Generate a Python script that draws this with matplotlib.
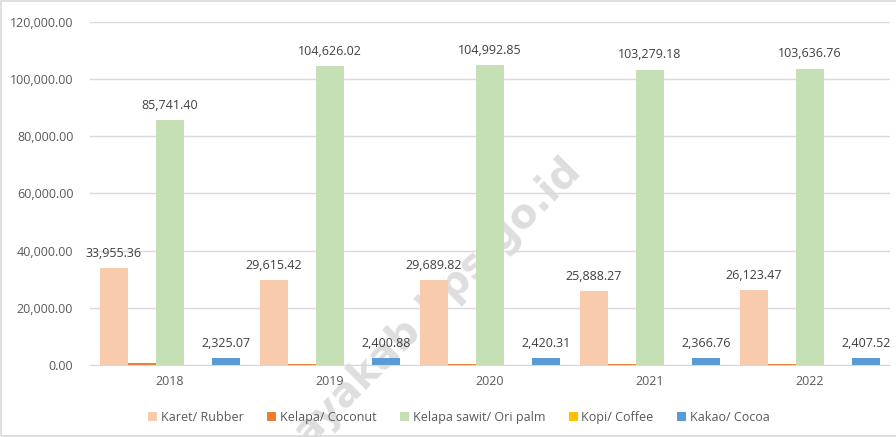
import matplotlib
matplotlib.use('Agg')
from matplotlib import pyplot as plt
from matplotlib.patches import Rectangle
import numpy as np

years = ['2018', '2019', '2020', '2021', '2022']
series_names = ['Karet/ Rubber', 'Kelapa/ Coconut', 'Kelapa sawit/ Ori palm',
                'Kopi/ Coffee', 'Kakao/ Cocoa']
rubber = [33955.36, 29615.42, 29689.82, 25888.27, 26123.47]
coconut = [520, 480, 470, 450, 440]
palm = [85741.40, 104626.02, 104992.85, 103279.18, 103636.76]
coffee = [90, 85, 80, 75, 70]
cocoa = [2325.07, 2400.88, 2420.31, 2366.76, 2407.52]
colors = ['#F8CBAD', '#ED7D31', '#C5E0B4', '#FFC000', '#5B9BD5']
labelled = [True, False, True, False, True]

plt.rcParams['font.family'] = ['Open Sans', 'DejaVu Sans']
text_color = '#595959'
grid_color = '#d9d9d9'

fig = plt.figure(figsize=(8.96, 4.37), dpi=100)
ax = fig.add_axes([0.1004, 0.1648, 0.8926, 0.7849])

# watermark behind the chart (only the part that shows in the picture)
fig.text(0.488, 0.31, 'ayakab.bps.go.id', rotation=45, fontsize=29,
         fontweight='bold', color='#dedede', ha='center', va='center',
         zorder=-1, family='DejaVu Sans', rotation_mode='anchor')
ax.set_facecolor('none')

x = np.arange(len(years))
width = 0.175
all_series = [rubber, coconut, palm, coffee, cocoa]
for i, vals in enumerate(all_series):
    pos = x + (i - 2) * width
    ax.bar(pos, vals, width, color=colors[i], label=series_names[i], zorder=3)
    if labelled[i]:
        for p, v in zip(pos, vals):
            ax.annotate('{:,.2f}'.format(v), (p, v), xytext=(0, 6),
                        textcoords='offset points', ha='center', va='bottom',
                        fontsize=9, color='#404040', annotation_clip=False)

ax.set_xlim(-0.5, len(years) - 0.5)
ax.set_ylim(0, 120000)
ax.set_yticks(np.arange(0, 120001, 20000))
ax.set_yticklabels(['{:,.2f}'.format(t) for t in np.arange(0, 120001, 20000)])
ax.set_xticks(x)
ax.set_xticklabels(years)
ax.tick_params(axis='both', length=0, colors=text_color, labelsize=9)
ax.tick_params(axis='y', pad=12)
ax.tick_params(axis='x', pad=7)
ax.yaxis.grid(True, color=grid_color, linewidth=1, zorder=0)
for s in ['top', 'right', 'left']:
    ax.spines[s].set_visible(False)
ax.spines['bottom'].set_color(grid_color)
ax.spines['bottom'].set_zorder(4)

leg = fig.legend(loc='center', bbox_to_anchor=(0.512, 0.045), ncol=5, frameon=False,
                 fontsize=9, handlelength=0.7, handleheight=0.7, handletextpad=0.3,
                 columnspacing=1.9)
for t in leg.get_texts():
    t.set_color(text_color)

fig.patches.append(Rectangle((0.001, 0.002), 1.2, 0.995, transform=fig.transFigure,
                             fill=False, edgecolor=grid_color, linewidth=1.2))

fig.savefig('out.png', dpi=100)
